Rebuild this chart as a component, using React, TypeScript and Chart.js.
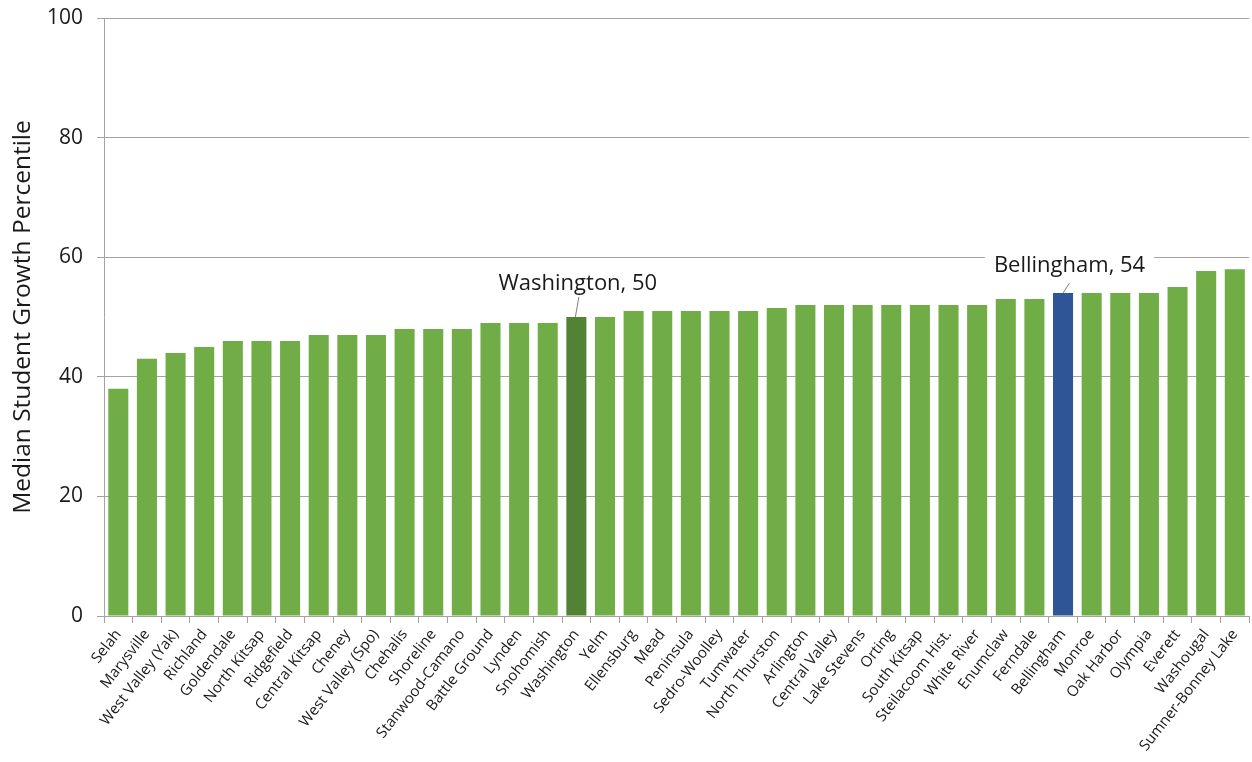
import React, { useEffect, useRef } from "react";
import { Chart, registerables } from "chart.js";

Chart.register(...registerables);

// Districts ordered from lowest to highest median student growth percentile
const districts = [
  "Selah", "Marysville", "West Valley (Yak)", "Richland", "Goldendale", "North Kitsap",
  "Ridgefield", "Central Kitsap", "Cheney", "West Valley (Spo)", "Chehalis", "Shoreline",
  "Stanwood-Camano", "Battle Ground", "Lynden", "Snohomish", "Washington", "Yelm",
  "Ellensburg", "Mead", "Peninsula", "Sedro-Woolley", "Tumwater", "North Thurston",
  "Arlington", "Central Valley", "Lake Stevens", "Orting", "South Kitsap", "Steilacoom Hist.",
  "White River", "Enumclaw", "Ferndale", "Bellingham", "Monroe", "Oak Harbor", "Olympia",
  "Everett", "Washougal", "Sumner-Bonney Lake",
];

const growthPercentiles = [
  38, 43, 44, 45, 46, 46,
  46, 47, 47, 47, 48, 48,
  48, 49, 49, 49, 50, 50,
  51, 51, 51, 51, 51, 51.5,
  52, 52, 52, 52, 52, 52,
  52, 53, 53, 54, 54, 54, 54,
  55, 57.7, 58,
];

const yTicks = [0, 20, 40, 60, 80, 100];

const BAR_GREEN = "#70AD47";
const highlightColors: Record<string, string> = {
  Washington: "#548235",
  Bellingham: "#2F5597",
};

// Callout label placement, relative to the top of the bar it names
const callouts = [
  { name: "Washington", textDx: 1.5, baselineDy: -27, leaderDx: 2.5, leaderDy: -20, leaderStartDx: -1 },
  { name: "Bellingham", textDx: 6.5, baselineDy: -21, leaderDx: 6.5, leaderDy: -10, leaderStartDx: 0 },
];

const GRID = "#a3a3a3";
const TEXT = "#1a1a1a";
const FONT = "'Open Sans', 'DejaVu Sans', sans-serif";

const calloutPlugin = {
  id: "districtCallouts",
  afterDatasetsDraw(chart: any) {
    const meta = chart.getDatasetMeta(0);
    const ctx = chart.ctx as CanvasRenderingContext2D;
    ctx.save();
    ctx.font = `22px ${FONT}`;
    ctx.textAlign = "center";
    ctx.textBaseline = "alphabetic";
    for (const c of callouts) {
      const i = districts.indexOf(c.name);
      if (i < 0) continue;
      const bar = meta.data[i];
      const text = `${c.name}, ${growthPercentiles[i]}`;
      const tx = bar.x + c.textDx;
      const ty = bar.y + c.baselineDy;
      const w = ctx.measureText(text).width;
      // white backing behind the label
      ctx.fillStyle = "#ffffff";
      ctx.fillRect(tx - w / 2 - 9, ty - 22, w + 18, 32);
      ctx.fillStyle = TEXT;
      ctx.fillText(text, tx, ty);
      // leader line from the bar top up to the label
      ctx.strokeStyle = "#7f7f7f";
      ctx.lineWidth = 1;
      ctx.beginPath();
      ctx.moveTo(bar.x + c.leaderStartDx, bar.y);
      ctx.lineTo(bar.x + c.leaderDx, bar.y + c.leaderDy);
      ctx.stroke();
    }
    ctx.restore();
  },
};

export default function App() {
  const canvasRef = useRef<HTMLCanvasElement | null>(null);

  useEffect(() => {
    if (!canvasRef.current) return;
    const chart = new Chart(canvasRef.current, {
      type: "bar",
      data: {
        labels: districts,
        datasets: [
          {
            data: growthPercentiles,
            backgroundColor: districts.map((d) => highlightColors[d] ?? BAR_GREEN),
            barPercentage: 0.7,
            categoryPercentage: 1,
          },
        ],
      },
      options: {
        responsive: false,
        animation: false,
        layout: { padding: { top: 18, right: 1, bottom: 0, left: 0 } },
        plugins: {
          legend: { display: false },
          tooltip: { enabled: false },
        },
        scales: {
          x: {
            grid: {
              display: true,
              drawOnChartArea: false,
              drawTicks: true,
              tickLength: 7,
              color: GRID,
              offset: true,
            },
            border: { display: true, color: GRID },
            ticks: {
              autoSkip: false,
              minRotation: 52,
              maxRotation: 52,
              color: TEXT,
              padding: 3,
              font: { family: FONT, size: 15 },
            },
            afterFit(scale: any) {
              scale.height = 146;
            },
          },
          y: {
            min: 0,
            max: 100,
            afterBuildTicks(scale: any) {
              scale.ticks = yTicks.map((v) => ({ value: v }));
            },
            grid: { color: GRID, tickLength: 7 },
            border: { display: true, color: GRID },
            ticks: {
              color: TEXT,
              padding: 14,
              font: { family: FONT, size: 21 },
            },
            title: {
              display: true,
              text: "Median Student Growth Percentile",
              color: TEXT,
              font: { family: FONT, size: 24.5 },
              padding: { top: 8, bottom: 0 },
            },
            afterFit(scale: any) {
              scale.width = 104;
              scale.paddingTop = 0;
              scale.paddingBottom = 0;
            },
          },
        },
      },
      plugins: [calloutPlugin],
    });
    return () => chart.destroy();
  }, []);

  return (
    <div style={{ position: "absolute", left: 0, top: 0, width: 1252, height: 762, background: "#fff" }}>
      <canvas ref={canvasRef} width={1252} height={762} style={{ display: "block" }} />
    </div>
  );
}
